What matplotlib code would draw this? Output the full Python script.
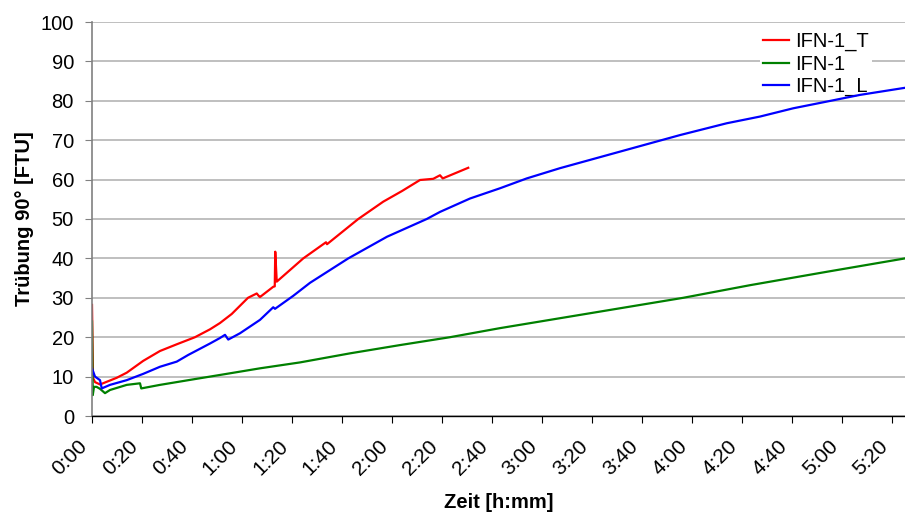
import matplotlib
matplotlib.use("Agg")
import matplotlib.pyplot as plt
from matplotlib.transforms import ScaledTranslation

plt.rcParams['font.family'] = ['Liberation Sans', 'DejaVu Sans']

# time in minutes, turbidity in FTU
t_T = [0, 0.4, 1.2, 3.2, 9.9, 13.9, 20.5, 27.2, 33.9, 41.2, 47.2, 51.2, 55.9, 62.4, 65.9, 66.8, 67.2,
       72.5, 73.1, 73.3, 73.9, 84.5, 93.6, 94.0, 106.5, 116.5, 124.0, 131.2, 136.5, 139.2, 140.3, 150.5]
y_T = [28.2, 9.7, 8.6, 8.0, 9.7, 11.0, 14.0, 16.5, 18.2, 20.0, 22.0, 23.6, 25.9, 30.0, 31.1, 30.4, 30.2,
       32.8, 32.9, 41.7, 34.1, 40.0, 44.1, 43.6, 50.0, 54.4, 57.1, 59.9, 60.2, 61.1, 60.3, 63.0]

t_1 = [0, 0.3, 0.8, 1.8, 3.2, 5.2, 7.2, 13.9, 19.2, 19.7, 27.2, 40.5, 53.9, 67.2, 83.2,
       103.2, 123.2, 143.2, 163.2, 183.2, 203.2, 236.5, 263.2, 293.9, 325.2]
y_1 = [24.0, 5.3, 7.4, 7.4, 6.9, 5.8, 6.6, 7.9, 8.3, 7.0, 7.9, 9.3, 10.7, 12.1, 13.6,
       15.9, 18.0, 20.0, 22.3, 24.4, 26.5, 30.0, 33.2, 36.6, 40.0]

t_L = [0, 1.2, 3.2, 3.9, 7.2, 13.9, 20.5, 27.2, 33.9, 38.5, 47.2, 51.2, 53.2, 54.5, 59.2,
       67.2, 72.5, 73.2, 80.5, 87.2, 102.5, 118.0, 133.9, 139.2, 151.2, 163.2, 173.9, 187.2,
       199.2, 211.2, 223.2, 235.2, 253.9, 267.2, 280.5, 293.9, 307.2, 325.2]
y_L = [12.1, 10.0, 9.1, 7.0, 7.9, 9.1, 10.7, 12.5, 13.8, 15.5, 18.4, 19.8, 20.6, 19.4, 21.0,
       24.4, 27.6, 27.2, 30.5, 33.8, 40.0, 45.5, 50.0, 51.8, 55.2, 57.8, 60.3, 62.9,
       65.0, 67.1, 69.2, 71.3, 74.3, 76.0, 78.1, 79.8, 81.5, 83.3]

xticks = list(range(0, 321, 20))
xlabels = ["%d:%02d" % (m // 60, m % 60) for m in xticks]

fig = plt.figure(figsize=(9.05, 5.13), dpi=100)
ax = fig.add_axes([92 / 905, (513 - 416) / 513, 813 / 905, 394 / 513])

ax.plot(t_T, y_T, color="#FF0000", lw=1.6, label="IFN-1_T")
ax.plot(t_1, y_1, color="#008000", lw=1.6, label="IFN-1")
ax.plot(t_L, y_L, color="#0000FF", lw=1.6, label="IFN-1_L")

ax.set_xlim(0, 325.2)
ax.set_ylim(0, 100)
ax.set_yticks(range(0, 101, 10))
ax.set_xticks(xticks)
ax.set_xticklabels(xlabels, rotation=45, ha="right", va="top", rotation_mode="anchor")
ax.yaxis.grid(True, color="#b4b4b4", lw=1.2)
ax.set_axisbelow(True)

for s in ["top", "right"]:
    ax.spines[s].set_visible(False)
ax.spines["left"].set_color("#808080")
ax.spines["left"].set_linewidth(1.2)
ax.spines["bottom"].set_color("black")
ax.spines["bottom"].set_linewidth(1.0)
ax.tick_params(axis="y", direction="out", length=5, color="#808080", labelsize=14.5, pad=8)
ax.tick_params(axis="x", direction="out", length=5, color="black", labelsize=15, pad=10)

# shift rotated labels to the left, like the original
shift = ScaledTranslation(-0.14, 0, fig.dpi_scale_trans)
for lab in ax.get_xticklabels():
    lab.set_transform(lab.get_transform() + shift)

ax.set_xlabel("Zeit [h:mm]", fontsize=14.5, fontweight="bold", labelpad=10)
ax.set_ylabel("Trübung 90° [FTU]", fontsize=14.5, fontweight="bold", labelpad=5)

leg = ax.legend(loc="upper left", bbox_to_anchor=(0.822, 0.983), frameon=True, fontsize=14.5,
                handlelength=1.3, handletextpad=0.3, labelspacing=0.18, borderpad=0.15,
                borderaxespad=0, fancybox=False)
leg.get_frame().set_edgecolor("none")
leg.get_frame().set_facecolor("white")
leg.get_frame().set_alpha(1)
leg.set_zorder(1)

fig.savefig("out.png", dpi=100)
